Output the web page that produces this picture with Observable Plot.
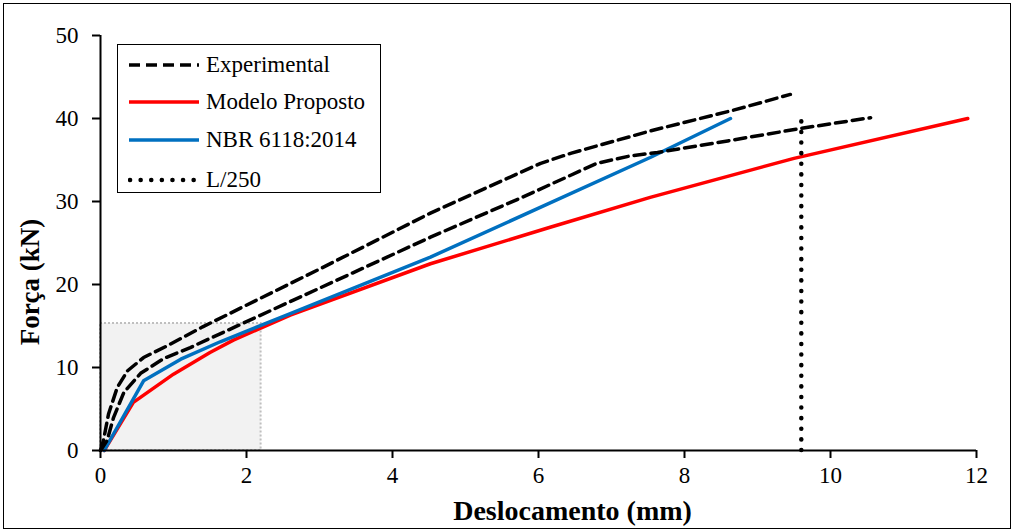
<!DOCTYPE html>
<html>
<head>
<meta charset="utf-8">
<script src="https://cdn.jsdelivr.net/npm/d3@7"></script>
<script src="https://cdn.jsdelivr.net/npm/@observablehq/plot@0.6"></script>
<style>
  html, body { margin:0; padding:0; background:#fff; }
  #wrap { position:relative; width:1014px; height:532px; overflow:hidden; }
  #frame { position:absolute; left:3px; top:3px; right:3px; bottom:3px; border:1.5px solid #000; pointer-events:none; }
  #legend { position:absolute; left:117px; top:44px; width:264px; height:149px; border:1.5px solid #000; background:#fff;
            font-family:"Liberation Serif","Times New Roman",serif; font-size:23px; color:#000; box-sizing:border-box; }
  .row { position:absolute; left:10px; height:30px; display:flex; align-items:center; }
  .row svg { width:72px; height:10px; margin-right:6px; }
</style>
</head>
<body>
<div id="wrap">
  <div id="chart"></div>
  <div id="legend"></div>
  <div id="frame"></div>
</div>
<script>
// ---- data ----
const expAx = [0, 0.04, 0.11, 0.23, 0.37, 0.59, 0.91, 1.4, 3.01, 4.52, 6.03, 6.44, 7.53, 8.67, 9.45];
const expAy = [0, 1.2, 4.4, 7.6, 9.6, 11.2, 12.6, 14.9, 21.9, 28.6, 34.6, 35.8, 38.5, 41.0, 42.9];
const expBx = [0, 0.09, 0.18, 0.32, 0.55, 0.87, 1.23, 1.5, 3.01, 4.52, 5.75, 6.8, 7.26, 7.63, 8.59, 9.59, 10.55];
const expBy = [0, 1.2, 4.0, 7.0, 9.3, 11.1, 12.4, 13.5, 19.6, 25.7, 30.4, 34.6, 35.5, 35.9, 37.3, 38.8, 40.1];
const modelX = [0.05, 0.45, 1.0, 1.5, 1.82, 2.6, 4.52, 6.16, 7.53, 9.5, 11.88];
const modelY = [0, 5.8, 9.2, 11.8, 13.3, 16.3, 22.5, 26.9, 30.5, 35.2, 40.0];
const nbrX = [0.05, 0.59, 1.1, 1.64, 2.6, 4.52, 7.53, 8.63];
const nbrY = [0, 8.4, 11.0, 13.1, 16.5, 23.3, 35.3, 40.0];
const l250X = 9.6;
const l250Top = 40;
const zoomBox = {x1:0, x2:2.2, y1:0, y2:15.3};
const xTicks = [0, 2, 4, 6, 8, 10, 12];
const yTicks = [0, 10, 20, 30, 40, 50];
const seriesNames = ["Experimental", "Modelo Proposto", "NBR 6118:2014", "L/250"];
const xTitle = "Deslocamento (mm)";
const yTitle = "Força (kN)";

const toPts = (xs, ys) => xs.map((x, i) => ({x, y: ys[i]}));
const expA = toPts(expAx, expAy);
const expB = toPts(expBx, expBy);
const model = toPts(modelX, modelY);
const nbr = toPts(nbrX, nbrY);

const font = '"Liberation Serif","Times New Roman",serif';
const dashStyle = {stroke:"#000", strokeWidth:3.5, strokeDasharray:"11,6"};

const chart = Plot.plot({
  width:1014, height:532,
  marginLeft:100, marginRight:38, marginTop:35, marginBottom:82,
  style:{fontFamily:font, fontSize:"23px", background:"transparent", color:"#000"},
  x:{domain:[0,12]},
  y:{domain:[0,50]},
  marks:[
    Plot.rect([zoomBox], {x1:"x1", x2:"x2", y1:"y1", y2:"y2", fill:"#f2f2f2", stroke:"#bfbfbf", strokeWidth:2, strokeDasharray:"2,2"}),
    Plot.line(model, {x:"x", y:"y", stroke:"#ff0000", strokeWidth:3.5}),
    Plot.line(nbr, {x:"x", y:"y", stroke:"#0070c0", strokeWidth:3.5}),
    Plot.line(expA, {x:"x", y:"y", ...dashStyle}),
    Plot.line(expB, {x:"x", y:"y", ...dashStyle}),
    Plot.ruleX([l250X], {y1:0, y2:l250Top, stroke:"#000", strokeWidth:4.5, strokeDasharray:"0.1,10.5", strokeLinecap:"round"}),
    Plot.ruleY([0], {x1:0, x2:12, stroke:"#000", strokeWidth:2}),
    Plot.ruleX([0], {y1:0, y2:50, stroke:"#000", strokeWidth:2}),
    Plot.axisX({ticks:xTicks, tickSize:8, tickPadding:8, strokeWidth:2, fontSize:23, label:null, tickFormat:d=>String(d)}),
    Plot.axisY({ticks:yTicks, tickSize:8, tickPadding:14, strokeWidth:2, fontSize:23, label:null, tickFormat:d=>String(d)}),
    Plot.text([yTitle], {frameAnchor:"left", text:d=>d, rotate:-90, dx:-70, dy:39, textAnchor:"middle", lineAnchor:"middle", fontWeight:"bold", fontSize:27, fontFamily:font}),
    Plot.text([xTitle], {frameAnchor:"bottom", text:d=>d, dx:34, dy:61, textAnchor:"middle", lineAnchor:"middle", fontWeight:"bold", fontSize:28, fontFamily:font})
  ]
});
document.getElementById("chart").appendChild(chart);

// ---- legend ----
const swatches = [
  '<line x1="1" y1="5" x2="71" y2="5" stroke="#000" stroke-width="3.5" stroke-dasharray="11,6"/>',
  '<line x1="1" y1="5" x2="71" y2="5" stroke="#ff0000" stroke-width="3.5"/>',
  '<line x1="1" y1="5" x2="71" y2="5" stroke="#0070c0" stroke-width="3.5"/>',
  '<line x1="2" y1="5" x2="71" y2="5" stroke="#000" stroke-width="4.5" stroke-dasharray="0.1,10.5" stroke-linecap="round"/>'
];
const rowTops = [5, 42, 80, 120];
const leg = document.getElementById("legend");
seriesNames.forEach((name, i) => {
  const r = document.createElement("div");
  r.className = "row";
  r.style.top = rowTops[i] + "px";
  r.innerHTML = '<svg viewBox="0 0 72 10">' + swatches[i] + '</svg><span>' + name + '</span>';
  leg.appendChild(r);
});
</script>
</body>
</html>
